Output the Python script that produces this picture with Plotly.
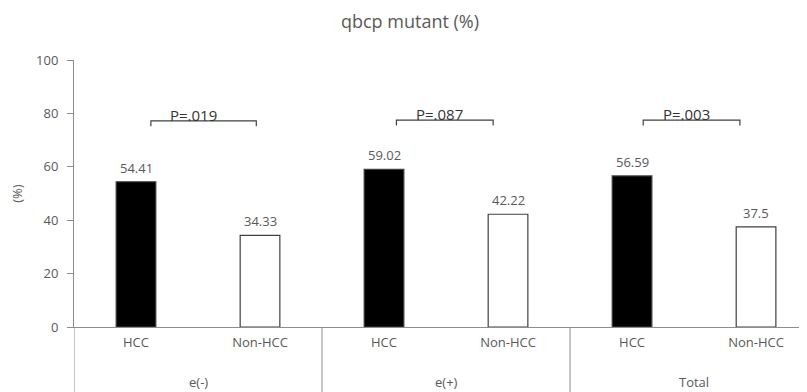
import plotly.graph_objects as go

categories = ["HCC", "Non-HCC", "HCC", "Non-HCC", "HCC", "Non-HCC"]
groups = ["e(-)", "e(+)", "Total"]
values = [54.41, 34.33, 59.02, 42.22, 56.59, 37.5]
value_labels = ["54.41", "34.33", "59.02", "42.22", "56.59", "37.5"]
p_labels = ["P=.019", "P=.087", "P=.003"]
p_level = [77.2, 77.5, 77.5]
p_left = [0.12, 0.10, 0.09]
p_right = [0.97, 0.88, 0.87]
p_text_x = [0.46, 0.45, 0.44]
y_ticks = [0, 20, 40, 60, 80, 100]

FONT = "Open Sans"
GREY = "#595959"
LINE = "#8c8c8c"
FS = 13

x = list(range(len(categories)))
fills = ["black" if c == "HCC" else "white" for c in categories]

fig = go.Figure()
fig.add_trace(go.Bar(
    x=x, y=values, width=0.32,
    marker=dict(color=fills, line=dict(color="#404040", width=1.2)),
    showlegend=False, hoverinfo="skip",
))

# value labels
for xi, v, t in zip(x, values, value_labels):
    fig.add_annotation(x=xi, y=v, text=t, showarrow=False, yanchor="bottom",
                       yshift=3, font=dict(family=FONT, size=FS, color=GREY))

# p-value brackets
for g in range(len(groups)):
    base = 2 * g
    xl = base + p_left[g]
    xr = base + p_right[g]
    yl = p_level[g]
    fig.add_shape(type="path",
                  path=f"M {xl} {yl-2} L {xl} {yl} L {xr} {yl} L {xr} {yl-2}",
                  line=dict(color="#404040", width=1.2))
    fig.add_annotation(x=base + p_text_x[g], y=yl, text=p_labels[g], showarrow=False,
                       yanchor="middle", yshift=6,
                       font=dict(family=FONT, size=15, color="#333333"))
    # group labels
    fig.add_annotation(x=base + 0.5, y=-0.205, yref="paper", text=groups[g],
                       showarrow=False, yanchor="middle",
                       font=dict(family=FONT, size=FS, color=GREY))

# group separators / axis extensions below x axis
for sx in [-0.5, 1.5, 3.5]:
    fig.add_shape(type="line", x0=sx, x1=sx, y0=0, y1=-0.26, yref="paper",
                  line=dict(color=LINE, width=1))

# page body has an 8px margin; size the figure so it fills the 807x392 window
fig.update_layout(
    width=799, height=384,
    margin=dict(l=66, r=0, t=52, b=65),
    plot_bgcolor="white", paper_bgcolor="white",
    title=dict(text="qbcp mutant (%)", x=(410 - 74) / 733, xref="paper",
               y=1 - 14 / 384, yref="container", xanchor="center", yanchor="middle",
               font=dict(family=FONT, size=18, color=GREY)),
    font=dict(family=FONT, size=FS, color=GREY),
)
fig.update_xaxes(
    range=[-0.5, 5.411], tickvals=x, ticktext=categories,
    showline=True, linecolor=LINE, linewidth=1, ticks="", showgrid=False,
    zeroline=False, tickfont=dict(family=FONT, size=FS, color=GREY),
    ticklabelstandoff=3, fixedrange=True,
)
fig.update_yaxes(
    range=[0, 100], tickvals=y_ticks, showline=True, linecolor=LINE, linewidth=1,
    ticks="outside", ticklen=6, tickcolor=LINE, showgrid=False, zeroline=False,
    title=dict(text="(%)", font=dict(family=FONT, size=FS, color=GREY), standoff=17),
    tickfont=dict(family=FONT, size=FS, color=GREY), ticklabelstandoff=6,
    fixedrange=True,
)

fig.write_html("out.html")
